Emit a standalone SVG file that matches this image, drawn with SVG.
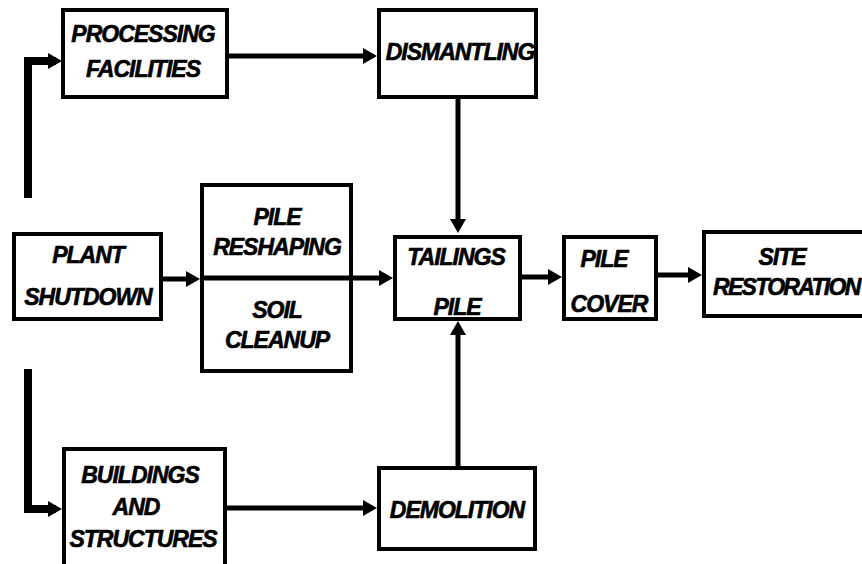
<svg xmlns="http://www.w3.org/2000/svg" width="862" height="564" viewBox="0 0 862 564">
<defs>
<style>
.box{fill:#fff;stroke:#000;stroke-width:4}
.t{font-family:"Liberation Sans",Arial,sans-serif;font-weight:bold;font-style:italic;font-size:23px;letter-spacing:-1px;text-anchor:middle;fill:#000;stroke:#000;stroke-width:0.6}
.c{fill:none;stroke:#000;stroke-width:5}
.ct{fill:none;stroke:#000;stroke-width:8}
</style>
<marker id="ah" markerUnits="userSpaceOnUse" markerWidth="16" markerHeight="18" refX="8" refY="8" orient="auto" viewBox="0 0 16 16">
<path d="M0,0 L14,8 L0,16 z" fill="#000"/>
</marker>
</defs>
<rect width="862" height="564" fill="#fff"/>
<g id="processing-facilities">
<rect class="box" x="63" y="10" width="164" height="87"/>
<text class="t" x="143" y="42">PROCESSING</text>
<text class="t" x="143" y="77">FACILITIES</text>
</g>
<g id="dismantling">
<rect class="box" x="379" y="10" width="157" height="87"/>
<text class="t" x="460" y="60">DISMANTLING</text>
</g>
<g id="plant-shutdown">
<rect class="box" x="14" y="234" width="147" height="85"/>
<text class="t" x="88" y="263">PLANT</text>
<text class="t" x="88" y="305">SHUTDOWN</text>
</g>
<g id="pile-reshaping-soil-cleanup">
<rect class="box" x="202" y="185" width="149" height="186"/>
<text class="t" x="277" y="225">PILE</text>
<text class="t" x="277" y="255">RESHAPING</text>
<text class="t" x="277" y="318">SOIL</text>
<text class="t" x="277" y="348">CLEANUP</text>
</g>
<g id="tailings-pile">
<rect class="box" x="395" y="237" width="125" height="82"/>
<text class="t" x="456" y="265">TAILINGS</text>
<text class="t" x="457" y="315">PILE</text>
</g>
<g id="pile-cover">
<rect class="box" x="564" y="237" width="92" height="82"/>
<text class="t" x="604" y="267">PILE</text>
<text class="t" x="609" y="312">COVER</text>
</g>
<g id="site-restoration">
<rect class="box" x="704" y="232" width="170" height="84"/>
<text class="t" x="782" y="265">SITE</text>
<text class="t" x="713" y="295" style="text-anchor:start;letter-spacing:-1.7px">RESTORATION</text>
</g>
<g id="buildings-structures">
<rect class="box" x="64" y="449" width="161" height="130"/>
<text class="t" x="140" y="483">BUILDINGS</text>
<text class="t" x="136" y="515">AND</text>
<text class="t" x="143" y="547">STRUCTURES</text>
</g>
<g id="demolition">
<rect class="box" x="379" y="468" width="156" height="81"/>
<text class="t" x="457" y="518">DEMOLITION</text>
</g>
<g id="connectors">
<path class="ct" d="M28 198 V61 H56" marker-end="url(#ah)"/>
<path class="ct" d="M28 369 V509 H56" marker-end="url(#ah)"/>
<path class="c" d="M228 56 H371" marker-end="url(#ah)"/>
<path class="c" d="M458 99 V227" marker-end="url(#ah)"/>
<path class="c" d="M163 279 H194" marker-end="url(#ah)"/>
<path class="c" d="M200 278 H387" marker-end="url(#ah)"/>
<path class="c" d="M522 277 H556" marker-end="url(#ah)"/>
<path class="c" d="M658 275 H696" marker-end="url(#ah)"/>
<path class="c" d="M227 508 H371" marker-end="url(#ah)"/>
<path class="c" d="M458 466 V327" marker-end="url(#ah)"/>
</g>
</svg>
